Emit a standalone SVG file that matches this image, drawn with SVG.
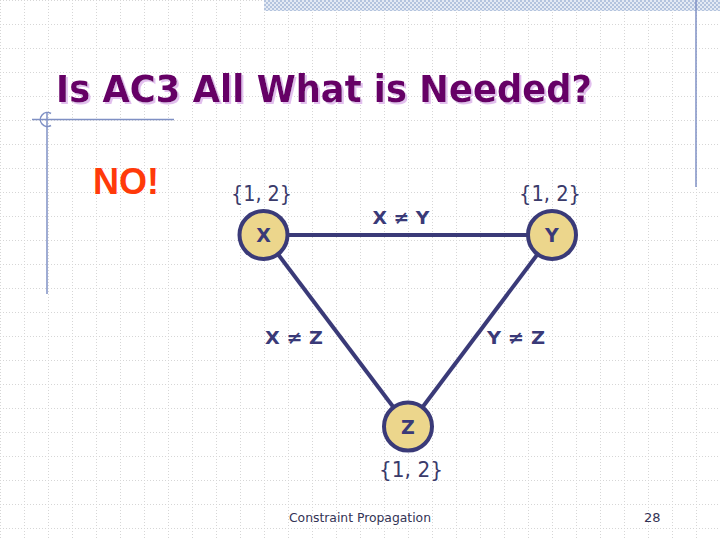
<svg xmlns="http://www.w3.org/2000/svg" width="720" height="540" viewBox="0 0 720 540">
  <defs>
    <pattern id="grid" patternUnits="userSpaceOnUse" width="24" height="24">
      <line x1="0" y1="0.5" x2="24" y2="0.5" stroke="#d6d6d6" stroke-width="1" stroke-dasharray="1 2"/>
      <line x1="0.5" y1="0" x2="0.5" y2="24" stroke="#d6d6d6" stroke-width="1" stroke-dasharray="1 2"/>
    </pattern>
    <pattern id="checker" patternUnits="userSpaceOnUse" width="4" height="4">
      <rect width="4" height="4" fill="#e4eaf4"/>
      <rect width="2" height="2" fill="#b4c4de"/>
      <rect x="2" y="2" width="2" height="2" fill="#b4c4de"/>
    </pattern>
    <filter id="shadow" x="-5%" y="-20%" width="110%" height="140%">
      <feDropShadow dx="2" dy="2" stdDeviation="0.6" flood-color="#e2bfee" flood-opacity="1"/>
    </filter>
    <style>
      .title { font-family: "DejaVu Sans", Verdana, sans-serif; font-weight: bold; font-size: 37px; fill: #660066; }
      .dom { font-family: "DejaVu Sans", Tahoma, sans-serif; font-weight: normal; font-size: 22px; fill: #3a3a6a; }
      .lbl { font-family: "DejaVu Sans", Tahoma, sans-serif; font-weight: bold; font-size: 18px; fill: #3a3a78; text-anchor: middle; }
      .node circle { fill: #ecd68c; stroke: #3a3a78; stroke-width: 4; }
      .node .name { font-family: "DejaVu Sans", Tahoma, sans-serif; font-weight: bold; font-size: 19px; fill: #3a3a78; text-anchor: middle; }
      .edge { stroke: #3a3a78; stroke-width: 4; fill: none; }
      .foot { font-family: "DejaVu Sans", Tahoma, sans-serif; font-size: 13px; fill: #333355; }
      .deco { stroke: #7f90c4; stroke-width: 1.5; fill: none; }
    </style>
  </defs>

  <rect width="720" height="540" fill="#ffffff"/>
  <rect width="720" height="540" fill="url(#grid)"/>
  <rect x="264" y="0" width="456" height="11" fill="url(#checker)"/>
  <line class="deco" x1="696" y1="0" x2="696" y2="187"/>
  <line class="deco" x1="32" y1="119.5" x2="174" y2="119.5"/>
  <line class="deco" x1="47" y1="112" x2="47" y2="294"/>
  <path class="deco" d="M 51 113.5 A 7 7 0 1 0 51 125.5"/>

  <text class="title" x="56" y="102" filter="url(#shadow)" textLength="536" lengthAdjust="spacingAndGlyphs">Is AC3 All What is Needed?</text>

  <text x="93" y="194" font-family="'Liberation Sans', Arial, sans-serif" font-weight="bold" font-size="36" fill="#ff3a0a">NO!</text>

  <g id="connectors">
    <line class="edge" x1="263.5" y1="235" x2="552" y2="235"/>
    <line class="edge" x1="263.5" y1="235" x2="408" y2="426.5"/>
    <line class="edge" x1="552" y1="235" x2="408" y2="426.5"/>
    <text class="lbl" x="401" y="224" textLength="57" lengthAdjust="spacingAndGlyphs">X ≠ Y</text>
    <text class="lbl" x="294" y="344" textLength="58" lengthAdjust="spacingAndGlyphs">X ≠ Z</text>
    <text class="lbl" x="516" y="344" textLength="58" lengthAdjust="spacingAndGlyphs">Y ≠ Z</text>
  </g>

  <g id="node-X" class="node">
    <circle cx="263.5" cy="235" r="24"/>
    <text class="name" x="263.5" y="242">X</text>
    <text class="dom" x="231" y="201" textLength="61" lengthAdjust="spacingAndGlyphs">{1, 2}</text>
  </g>
  <g id="node-Y" class="node">
    <circle cx="552" cy="235" r="24"/>
    <text class="name" x="552" y="242">Y</text>
    <text class="dom" x="519" y="201" textLength="62" lengthAdjust="spacingAndGlyphs">{1, 2}</text>
  </g>
  <g id="node-Z" class="node">
    <circle cx="408" cy="426.5" r="24"/>
    <text class="name" x="408" y="434">Z</text>
    <text class="dom" x="379" y="477" textLength="64" lengthAdjust="spacingAndGlyphs">{1, 2}</text>
  </g>

  <text class="foot" x="289" y="522" textLength="142" lengthAdjust="spacingAndGlyphs">Constraint Propagation</text>
  <text class="foot" x="644" y="522">28</text>
</svg>
